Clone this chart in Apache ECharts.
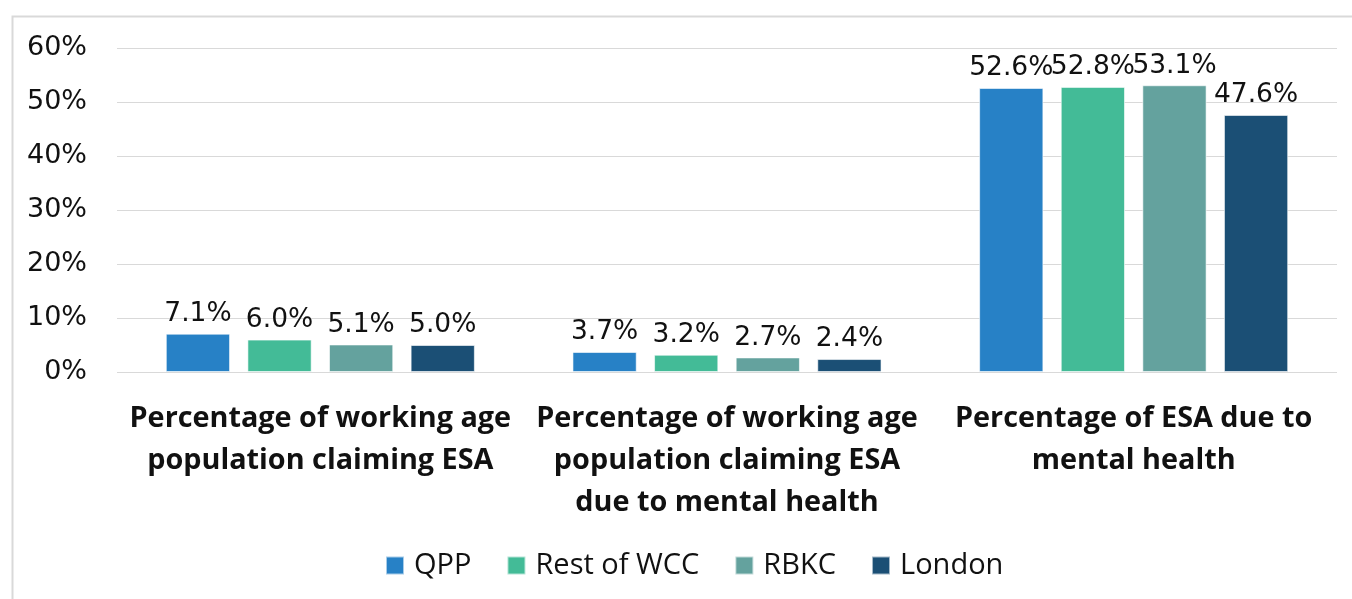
<!DOCTYPE html>
<html>
<head>
<meta charset="utf-8">
<script src="https://cdn.jsdelivr.net/npm/echarts@6/dist/echarts.min.js"></script>
<style>
  html, body { margin: 0; padding: 0; background: #fff; }
  #chart { width: 1352px; height: 599px; }
</style>
</head>
<body>
<div id="chart"></div>
<script>
// ESA claimants chart: four areas across three measures
const categories = [
  'Percentage of working age\npopulation claiming ESA',
  'Percentage of working age\npopulation claiming ESA\ndue to mental health',
  'Percentage of ESA due to\nmental health'
]
const seriesNames = ['QPP', 'Rest of WCC', 'RBKC', 'London']
const qpp = [7.1, 3.7, 52.6]
const restOfWcc = [6.0, 3.2, 52.8]
const rbkc = [5.1, 2.7, 53.1]
const london = [5.0, 2.4, 47.6]
const yTicks = [0, 10, 20, 30, 40, 50, 60]

const colors = ['#2781c6', '#43bb97', '#64a29e', '#1b4f75']
const values = [qpp, restOfWcc, rbkc, london]

const chart = echarts.init(document.getElementById('chart'), null, { renderer: 'canvas' })

const option = {
  animation: false,
  color: colors,
  graphic: [{
    type: 'rect',
    left: 10, top: 14,
    shape: { width: 1400, height: 700 },
    style: { fill: 'none', stroke: '#d9d9d9', lineWidth: 2 },
    silent: true,
    z: -1
  }],
  grid: { left: 117, right: 15, top: 48, bottom: 227, containLabel: false },
  legend: {
    top: 546,
    left: 380,
    icon: 'rect',
    itemWidth: 18,
    itemHeight: 18,
    itemGap: 35,
    textStyle: { fontFamily: 'Open Sans', fontSize: 29, color: '#111', padding: [0, 0, 0, 5] },
    data: seriesNames
  },
  xAxis: {
    type: 'category',
    data: categories,
    axisLine: { show: false },
    axisTick: { show: false },
    axisLabel: {
      interval: 0,
      margin: 26,
      fontFamily: 'Open Sans',
      fontWeight: 'bold',
      fontSize: 28.8,
      lineHeight: 42,
      color: '#111'
    }
  },
  yAxis: {
    type: 'value',
    min: yTicks[0],
    max: yTicks[yTicks.length - 1],
    interval: 10,
    axisLine: { show: false },
    axisTick: { show: false },
    axisLabel: {
      formatter: '{value}%',
      fontFamily: 'DejaVu Sans',
      fontSize: 27,
      color: '#111',
      margin: 30
    },
    splitLine: { lineStyle: { color: '#d9d9d9', width: 1 } }
  },
  series: seriesNames.map((name, i) => ({
    type: 'bar',
    name: name,
    data: values[i],
    barGap: '27%',
    barCategoryGap: '24%',
    itemStyle: { color: colors[i], borderColor: 'rgba(255,255,255,0.6)', borderWidth: 1 },
    label: {
      show: true,
      position: 'top',
      distance: 6,
      formatter: (p) => p.value.toFixed(1) + '%',
      fontFamily: 'DejaVu Sans',
      fontSize: 26.5,
      color: '#111'
    }
  }))
}

chart.setOption(option)
</script>
</body>
</html>
